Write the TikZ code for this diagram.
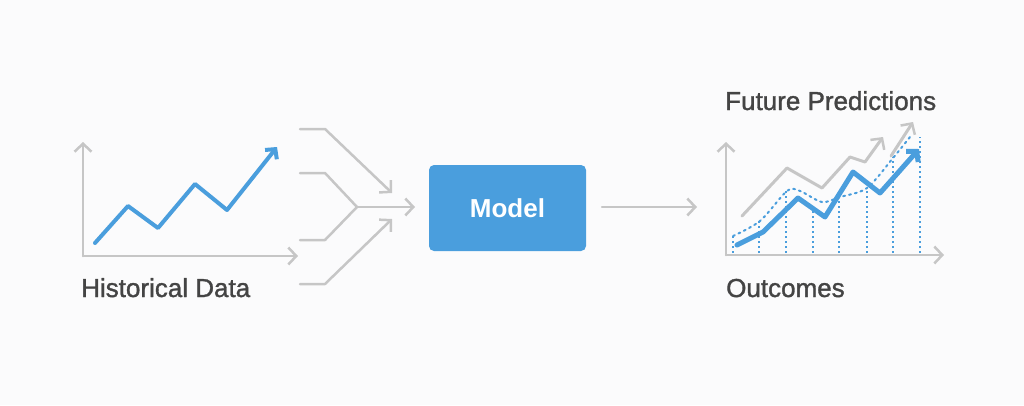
\documentclass[tikz,border=0pt]{standalone}
\usepackage{fontspec}
\setmainfont{Liberation Sans}
\newfontfamily\lblfont[FakeBold=1.3]{Liberation Sans}
\usetikzlibrary{arrows.meta}
\definecolor{bg}{HTML}{FBFBFC}
\definecolor{gline}{HTML}{C6C6C6}
\definecolor{blu}{HTML}{4A9EDD}
\definecolor{txt}{HTML}{444444}
\begin{document}
\begin{tikzpicture}[x=1pt,y=-1pt,
  gln/.style={draw=gline,line width=2.5pt,line cap=round,line join=round},
  garrow/.style={gln,-{Straight Barb[length=8pt,width=17pt,line width=2.5pt]}},
  bln/.style={draw=blu,line width=4pt,line cap=round,line join=round},
  barrow/.style={bln,-{Straight Barb[length=7pt,width=15pt,line width=4pt]}},
  vdot/.style={draw=blu,line width=1.5pt,dash pattern=on 2pt off 3pt},
  lbl/.style={text=txt,font=\lblfont\fontsize{26}{30}\selectfont,inner sep=0pt,anchor=base west},
  modelbox/.style={fill=blu,rounded corners=5pt,minimum width=157pt,minimum height=86pt,
    text=white,font=\bfseries\fontsize{26}{30}\selectfont,inner sep=0pt}]
\fill[bg] (0,0) rectangle (1024,405);
\useasboundingbox (0,0) rectangle (1024,405);

% ---------- left chart ----------
\coordinate (lo) at (83,256);
\draw[garrow] (lo) -- (83,142);
\draw[garrow] (lo) -- (298,256);
\draw[barrow] (95,243) -- (128,206) -- (158,228) -- (195,184) -- (227,210) -- (277,147);
\node[lbl] (hist) at (81,297) {Historical Data};

% ---------- funnel ----------
\coordinate (f1s) at (300,129); \coordinate (f1b) at (325,129); \coordinate (tip1) at (392,193);
\coordinate (f2s) at (300,173); \coordinate (f2b) at (325,173);
\coordinate (f3s) at (300,240); \coordinate (f3b) at (325,240);
\coordinate (f4s) at (300,284); \coordinate (f4b) at (325,284); \coordinate (tip4) at (392,219);
\coordinate (merge) at (357,207); \coordinate (mtip) at (415,207);
\draw[garrow] (f1s) -- (f1b) -- (tip1);
\draw[gln] (f2s) -- (f2b) -- (merge);
\draw[gln] (f3s) -- (f3b) -- (merge);
\draw[garrow] (merge) -- (mtip);
\draw[garrow] (f4s) -- (f4b) -- (tip4);

% ---------- model ----------
\node[modelbox] (model) at (507.5,208) {Model};
\coordinate (otip) at (697,207);
\draw[garrow] (602,207) -- (otip);

% ---------- right chart ----------
\coordinate (ro) at (726,255);
% vertical dotted lines
\foreach \x/\t in {733/235,759/220,786/190,813/208,839/198,867/190,893/157,920/137}
  \draw[vdot] (\x,253) -- (\x,\t);
% axes
\draw[garrow] (ro) -- (726,142);
\draw[garrow] (ro) -- (944,255);
% gray prediction lines
\draw[garrow,line width=3pt] (742,216) -- (787,168) -- (822,188) -- (850,157) -- (865,162) -- (883,137);
\draw[garrow,line width=3pt] (891,156) -- (913,122);
% dotted blue curve
\draw[draw=blu,line width=2pt,dash pattern=on 2pt off 4pt,line cap=round]
  plot[smooth,tension=0.5] coordinates {(733,236) (760,221) (787,191) (800,191) (822,202) (840,197) (867,188) (893,158) (910,137)};
% blue outcome line
\draw[bln,line width=5pt,-{Straight Barb[length=7pt,width=16pt,line width=5pt]}]
  (737,245) -- (763,232) -- (798,198) -- (825,217) -- (853,172) -- (880,193) -- (919,149);

\node[lbl] (future) at (725,110) {Future Predictions};
\node[lbl] (outc) at (726,297) {Outcomes};
\end{tikzpicture}
\end{document}
